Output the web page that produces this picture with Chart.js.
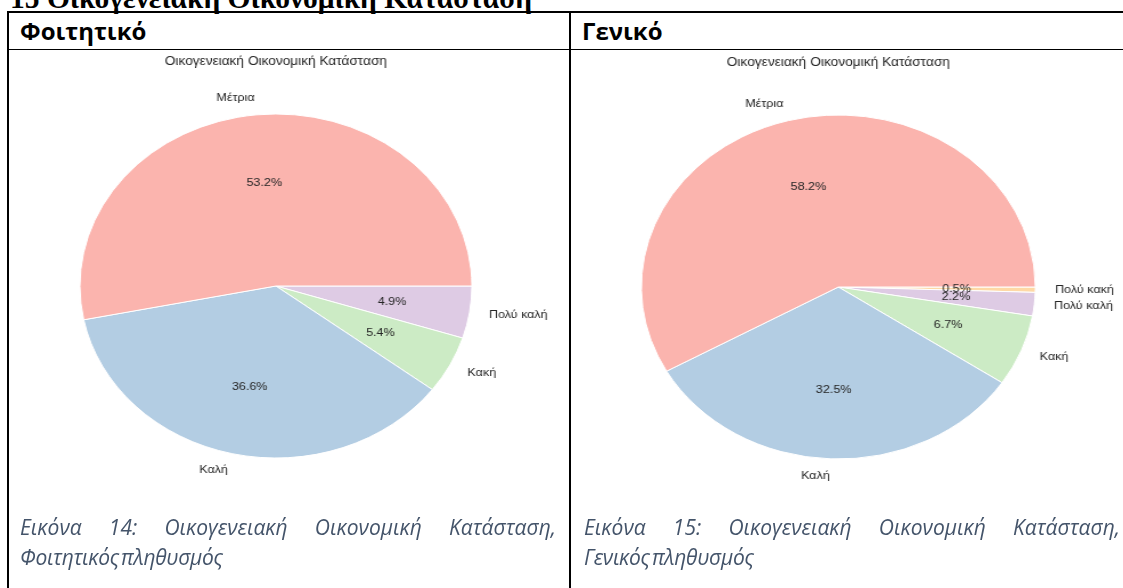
<!DOCTYPE html>
<html lang="el">
<head>
<meta charset="utf-8">
<title>Οικογενειακή Οικονομική Κατάσταση</title>
<script src="https://cdn.jsdelivr.net/npm/chart.js@4.4.1/dist/chart.umd.min.js"></script>
<style>
    html, body {
        margin: 0;
        padding: 0;
        background: #fff;
    }
    body {
        position: relative;
        width: 1123px;
        height: 588px;
        overflow: hidden;
        font-family: "Open Sans", "Noto Sans", sans-serif;
    }
    .line { position: absolute; background: #000; }
    #heading {
        position: absolute;
        left: 10px;
        top: -16px;
        font: bold 29.5px/29.5px "Liberation Serif", "DejaVu Serif", serif;
        white-space: nowrap;
        color: #000;
    }
    .cellTitle {
        position: absolute;
        top: 14px;
        font-weight: bold;
        font-size: 24px;
        line-height: 34px;
        color: #000;
    }
    .chartBox {
        position: absolute;
        width: 500px;
        height: 480px;
        transform-origin: 0 0;
    }
    .caption {
        position: absolute;
        top: 512px;
        width: 536px;
        font-style: italic;
        font-size: 21px;
        line-height: 30px;
        color: #44546a;
        white-space: nowrap;
    }
    .caption .first {
        text-align: justify;
        text-align-last: justify;
    }
    .caption .second {
        letter-spacing: -0.3px;
        word-spacing: -3px;
    }
</style>
</head>
<body>

<div id="heading">15 Οικογενειακή Οικονομική Κατάσταση</div>

<!-- table rules -->
<div class="line" style="left:7px; top:11px; width:1116px; height:2px;"></div>
<div class="line" style="left:7px; top:49px; width:1116px; height:1px;"></div>
<div class="line" style="left:7px; top:11px; width:2px; height:577px;"></div>
<div class="line" style="left:569px; top:11px; width:2px; height:577px;"></div>

<div class="cellTitle" style="left:20px;">Φοιτητικό</div>
<div class="cellTitle" style="left:582px;">Γενικό</div>

<div class="chartBox" id="boxStudents" style="left:-9px; top:46px; transform:scaleX(1.1395);">
    <canvas id="chartStudents"></canvas>
</div>
<div class="chartBox" id="boxGeneral" style="left:552px; top:47px; transform:scaleX(1.1453);">
    <canvas id="chartGeneral"></canvas>
</div>

<div class="caption" style="left:20px;">
    <div class="first">Εικόνα 14: Οικογενειακή Οικονομική Κατάσταση,</div>
    <div class="second">Φοιτητικός πληθυσμός</div>
</div>
<div class="caption" style="left:584px;">
    <div class="first">Εικόνα 15: Οικογενειακή Οικονομική Κατάσταση,</div>
    <div class="second">Γενικός πληθυσμός</div>
</div>

<script>
// slices listed clockwise from 3 o'clock (matplotlib drew them counter-clockwise)
const categoriesStudents = ['Πολύ καλή', 'Κακή', 'Καλή', 'Μέτρια'];
const valuesStudents = [4.9, 5.4, 36.6, 53.2];

const categoriesGeneral = ['Πολύ κακή', 'Πολύ καλή', 'Κακή', 'Καλή', 'Μέτρια'];
const valuesGeneral = [0.5, 2.2, 6.7, 32.5, 58.2];

const chartTitle = 'Οικογενειακή Οικονομική Κατάσταση';

// Pastel1
const colorOf = {
    'Μέτρια': '#fbb4ae',
    'Καλή': '#b3cde3',
    'Κακή': '#ccebc5',
    'Πολύ καλή': '#decbe4',
    'Πολύ κακή': '#fed9a6'
};

const LABEL_FONT = '11px "Liberation Sans", Arial, sans-serif';
const TITLE_FONT = '12px "Liberation Sans", Arial, sans-serif';

// outside labels at 1.1r, percentages at 0.6r, like plt.pie(autopct=...)
const pieLabels = {
    id: 'pieLabels',
    afterDatasetsDraw(chart) {
        const ctx = chart.ctx;
        const meta = chart.getDatasetMeta(0);
        const values = chart.data.datasets[0].data;
        ctx.save();
        ctx.fillStyle = '#262626';
        ctx.font = LABEL_FONT;
        ctx.textBaseline = 'middle';
        let cx = chart.width / 2;
        meta.data.forEach(function (arc, i) {
            const mid = (arc.startAngle + arc.endAngle) / 2;
            const r = arc.outerRadius;
            cx = arc.x;
            const c = Math.cos(mid), s = Math.sin(mid);
            ctx.textAlign = c > 0 ? 'left' : 'right';
            ctx.fillText(chart.data.labels[i], arc.x + c * r * 1.1, arc.y + s * r * 1.1);
            ctx.textAlign = 'center';
            ctx.fillText(values[i].toFixed(1) + '%', arc.x + c * r * 0.6, arc.y + s * r * 0.6);
        });
        ctx.font = TITLE_FONT;
        ctx.textAlign = 'center';
        ctx.fillText(chartTitle, cx, 16);
        ctx.restore();
    }
};

function makePie(canvasId, labels, values) {
    return new Chart(document.getElementById(canvasId), {
        type: 'pie',
        data: {
            labels: labels,
            datasets: [{
                data: values,
                backgroundColor: labels.map(l => colorOf[l]),
                borderColor: '#ffffff',
                borderWidth: 1
            }]
        },
        options: {
            responsive: true,
            maintainAspectRatio: false,
            animation: false,
            rotation: 90,
            radius: 172,
            layout: { padding: 0 },
            events: [],
            plugins: {
                legend: { display: false },
                tooltip: { enabled: false },
                title: { display: false }
            }
        },
        plugins: [pieLabels]
    });
}

makePie('chartStudents', categoriesStudents, valuesStudents);
makePie('chartGeneral', categoriesGeneral, valuesGeneral);
</script>
</body>
</html>
